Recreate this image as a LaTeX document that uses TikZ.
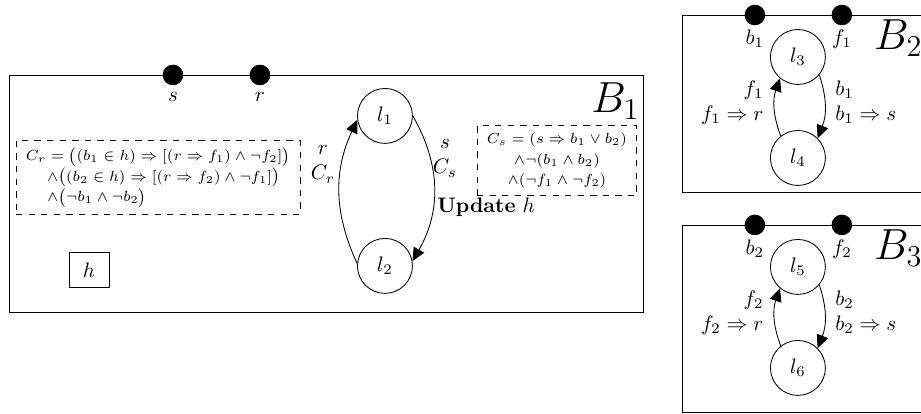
\documentclass[tikz,border=0pt]{standalone}
\usepackage{amsmath}
\usepackage{amssymb}
\usepackage{tikz}
\usetikzlibrary{arrows}
\usetikzlibrary{arrows.meta}
\tikzset{
port/.style = { circle, draw = black, fill = black, minimum size = 3.3mm, inner sep = 0pt },
loc/.style = { circle, draw = black, fill = white, minimum size = 9.2mm },
guard/.style = { rectangle, draw = black, dashed, align = left, font = \fontsize{7.5}{9.8}\selectfont },
var/.style = { rectangle, draw = black, fill = white, minimum width = 6.7mm, minimum height = 5.7mm },
trans/.style = { -{Triangle[length = 2.2mm, width = 2mm]}, draw = black },
}

\begin{document}
\begin{tikzpicture}
      \useasboundingbox (0, 0) rectangle (15.42, 6.93);
      % components
      \path[draw = black] (0.15, 1.691) rectangle (10.764, 5.675);
      \path[draw = black] (11.417, 3.716) rectangle (15.55, 6.679);
      \path[draw = black] (11.417, 0.033) rectangle (15.55, 3.164);
      \node[anchor = base east, font = \huge, inner sep = 0pt] (nB1) at (10.714, 5.039) {$B_1$};
      \node[anchor = base east, font = \huge, inner sep = 0pt] (nB2) at (15.45, 6.093) {$B_2$};
      \node[anchor = base east, font = \huge, inner sep = 0pt] (nB3) at (15.45, 2.578) {$B_3$};
      % ports
      \node[port] (ps) at (2.896, 5.675) {};
      \node[port] (pr) at (4.352, 5.675) {};
      \node[port] (pb1) at (12.639, 6.679) {};
      \node[port] (pf1) at (14.095, 6.679) {};
      \node[port] (pb2) at (12.639, 3.164) {};
      \node[port] (pf2) at (14.095, 3.164) {};
      \node (ls) at (2.896, 5.307) {$s$};
      \node (lr) at (4.352, 5.307) {$r$};
      \node (lb1) at (12.639, 6.278) {$b_1$};
      \node (lf1) at (14.095, 6.278) {$f_1$};
      \node (lb2) at (12.639, 2.763) {$b_2$};
      \node (lf2) at (14.095, 2.763) {$f_2$};
      % B1
      \node[guard, minimum width = 4.754cm, minimum height = 1.222cm] (gr) at (2.645, 3.959)
        {$C_r = \big((b_1 \in h) \Rightarrow [(r \Rightarrow f_1) \wedge \neg f_2]\big)$\\
         \hspace*{1.35em}$\wedge\big((b_2 \in h) \Rightarrow [(r \Rightarrow f_2) \wedge \neg f_1]\big)$\\
         \hspace*{1.35em}$\wedge\big(\neg b_1 \wedge \neg b_2\big)$};
      \node[guard, align = center, minimum width = 2.678cm, minimum height = 1.088cm] (gs) at (9.324, 4.244)
        {$C_s = (s \Rightarrow b_1 \vee b_2)$\\ $\wedge\neg(b_1 \wedge b_2)$\\ $\wedge(\neg f_1 \wedge \neg f_2)$};
      \node[var] (h) at (1.490, 2.411) {$h$};
      \node[loc] (l1) at (6.445, 4.989) {$l_1$};
      \node[loc] (l2) at (6.445, 2.478) {$l_2$};
      \draw[trans] (l2.175) to[bend left = 25] (l1.188);
      \draw[trans] (l1.0) to[bend left = 30] (l2.10);
      \node[align = center] (tr) at (5.407, 4.177) {$r$\\ $C_r$};
      \node[align = center] (ts) at (7.45, 4.277) {$s$\\ $C_s$};
      \node[anchor = west] (tu) at (7.198, 3.465) {\textbf{Update} $h$};
      % B2
      \node[loc] (l3) at (13.359, 5.976) {$l_3$};
      \node[loc] (l4) at (13.359, 4.285) {$l_4$};
      \draw[trans] (l4.128) to[bend left = 20] (l3.230);
      \draw[trans] (l3.320) to[bend left = 20] (l4.45);
      \node[align = right, anchor = east] (tf1) at (12.906, 5.206) {$f_1$\\ $f_1 \Rightarrow r$};
      \node[align = left, anchor = west] (tb1) at (13.861, 5.223) {$b_1$\\ $b_1 \Rightarrow s$};
      % B3
      \node[loc] (l5) at (13.359, 2.461) {$l_5$};
      \node[loc] (l6) at (13.359, 0.770) {$l_6$};
      \draw[trans] (l6.128) to[bend left = 20] (l5.230);
      \draw[trans] (l5.320) to[bend left = 20] (l6.45);
      \node[align = right, anchor = east] (tf2) at (12.906, 1.691) {$f_2$\\ $f_2 \Rightarrow r$};
      \node[align = left, anchor = west] (tb2) at (13.861, 1.708) {$b_2$\\ $b_2 \Rightarrow s$};
\end{tikzpicture}
\end{document}
